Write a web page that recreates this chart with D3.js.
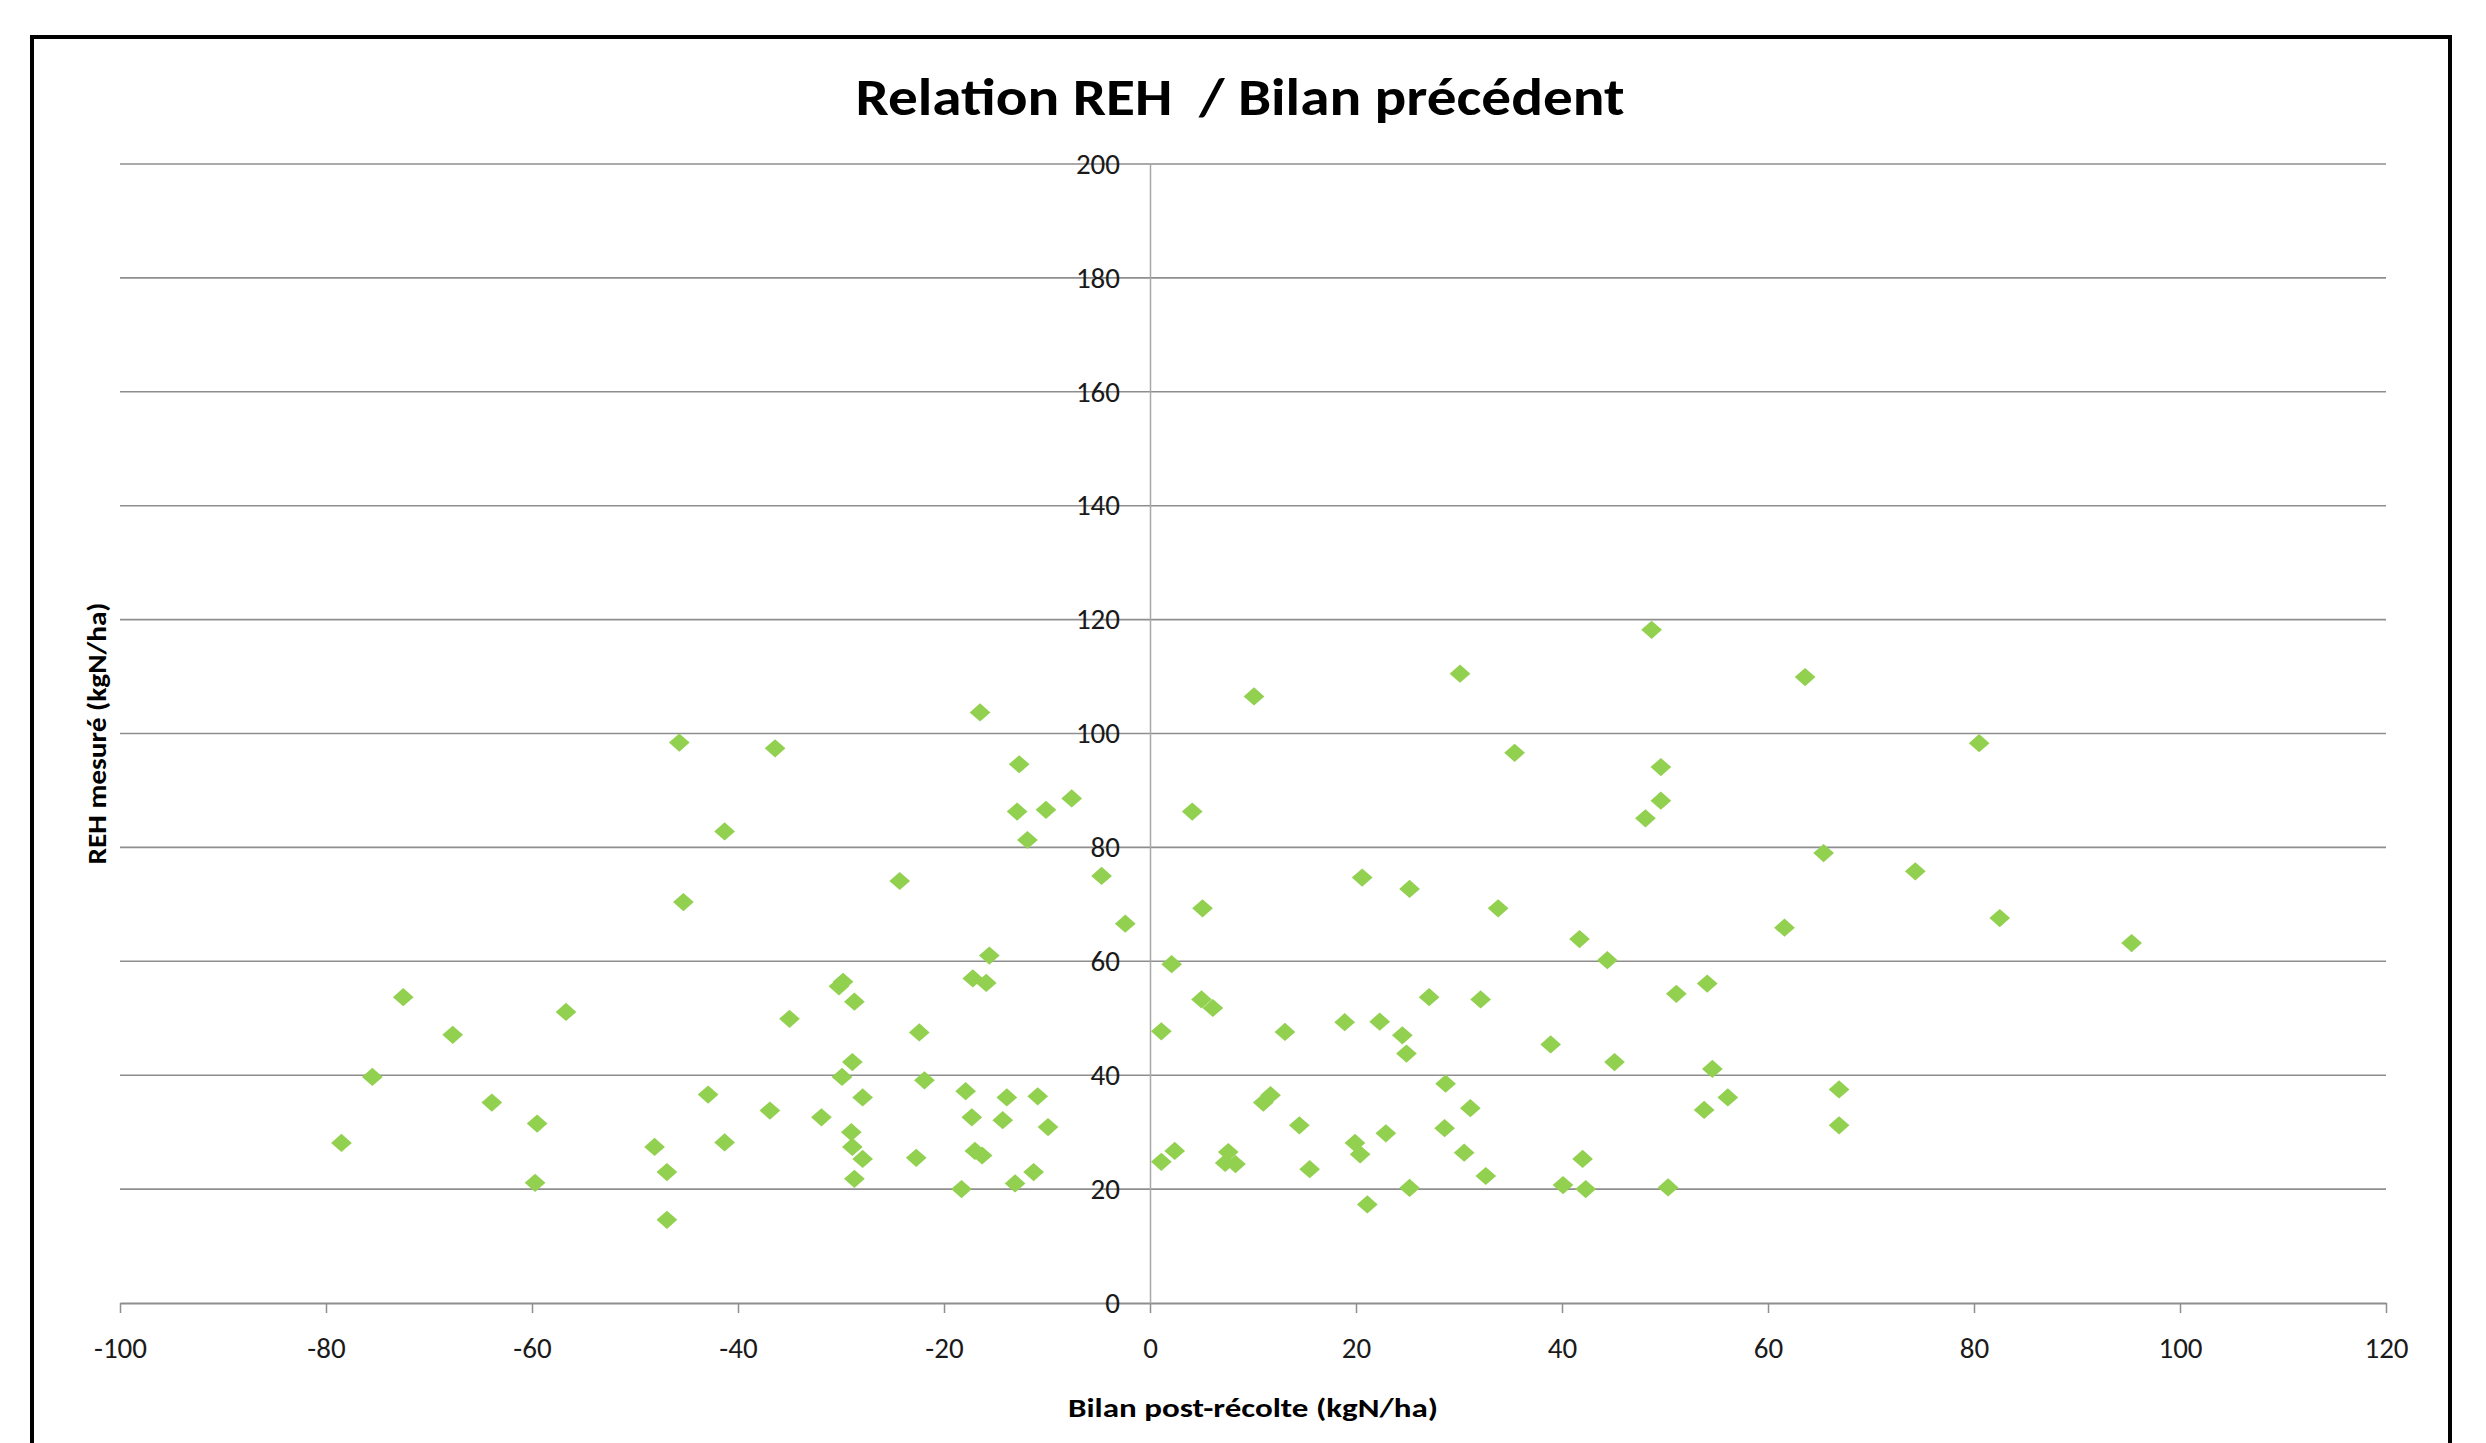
<!DOCTYPE html>
<html>
<head>
<meta charset="utf-8">
<script src="https://cdn.jsdelivr.net/npm/d3@7"></script>
<style>
    body { margin: 0; background: #ffffff; }
    text { font-family: Carlito, Calibri, Lato, sans-serif; }
</style>
</head>
<body>
<div id="reh-viz"></div>
<script>
// --------------------------------------
// Data: bilan post-récolte (x) and REH mesuré (y)
const bilan = [
    -78.5, -75.5, -72.5, -67.7, -63.9, -59.5, -59.7, -56.7,
    -48.1, -46.9, -46.9, -45.7, -45.3, -42.9, -41.3, -41.3, -36.9, -36.4, -35.0, -31.9,
    -30.2, -29.8, -29.9, -28.9, -28.7, -29.0, -28.9, -27.9, -28.7, -27.9, -24.3, -22.4, -21.9, -22.7,
    -18.3, -17.9, -17.3, -17.2, -17.0, -16.3, -16.5, -15.9, -15.6, -14.3, -13.9, -13.1, -12.7, -12.9,
    -11.9, -11.3, -10.9, -10.1, -9.9, -7.6, -4.7, -2.4,
    1.1, 1.1, 2.1, 2.4, 4.1, 5.0, 5.1, 6.1, 7.3, 7.6, 8.3, 10.1, 11.0, 11.7,
    13.1, 14.5, 15.5, 18.9, 19.9, 20.4, 20.6, 21.1, 22.3, 22.9, 24.5, 24.9, 25.2, 25.2, 27.1,
    28.7, 28.6, 30.5, 31.1, 30.1, 32.1, 32.6, 33.8, 35.4, 38.9, 40.1, 41.7, 42.0, 42.3,
    44.4, 45.1, 48.1, 48.7, 49.6, 49.6, 50.3, 51.1, 53.8, 54.1, 54.6, 56.1, 61.6, 63.6, 65.4,
    66.9, 66.9, 74.3, 80.5, 82.5, 95.3
];
const reh = [
    28.1, 39.7, 53.7, 47.1, 35.2, 31.5, 21.1, 51.1,
    27.4, 23.0, 14.6, 98.4, 70.4, 36.6, 82.8, 28.2, 33.8, 97.4, 49.9, 32.6,
    55.6, 56.4, 39.7, 42.3, 52.9, 30.0, 27.4, 25.3, 21.8, 36.1, 74.1, 47.5, 39.1, 25.5,
    20.0, 37.2, 32.6, 57.0, 26.7, 25.9, 103.7, 56.2, 61.0, 32.1, 36.1, 21.0, 94.6, 86.3,
    81.3, 23.0, 36.3, 86.6, 30.9, 88.6, 75.0, 66.6,
    47.7, 24.8, 59.5, 26.7, 86.3, 53.3, 69.3, 51.8, 24.6, 26.5, 24.4, 106.5, 35.2, 36.5,
    47.6, 31.2, 23.5, 49.3, 28.1, 26.1, 74.7, 17.3, 49.4, 29.8, 47.0, 43.8, 72.7, 20.2, 53.7,
    38.5, 30.7, 26.4, 34.2, 110.5, 53.3, 22.3, 69.3, 96.6, 45.4, 20.7, 63.9, 25.3, 20.0,
    60.2, 42.3, 85.1, 118.2, 94.1, 88.2, 20.3, 54.3, 33.9, 56.1, 41.1, 36.1, 65.9, 109.9, 79.0,
    37.5, 31.2, 75.8, 98.3, 67.6, 63.2
];
const xTicks = [-100, -80, -60, -40, -20, 0, 20, 40, 60, 80, 100, 120];
const yTicks = [0, 20, 40, 60, 80, 100, 120, 140, 160, 180, 200];

const chartTitle = "Relation REH  / Bilan précédent";
const xTitle = "Bilan post-récolte (kgN/ha)";
const yTitle = "REH mesuré (kgN/ha)";

class chartReh {
    constructor(selector) {
        this.width = 2486;
        this.height = 1443;
        this.svg = d3.select(selector)
            .append("svg")
            .attr("width", this.width)
            .attr("height", this.height);

        // plot area in pixels
        const left = 120, right = 2386, top = 164, bottom = 1303;

        const x = d3.scaleLinear().domain([-100, 120]).range([left, right]);
        const y = d3.scaleLinear().domain([0, 200]).range([bottom, top]);

        // outer frame (bottom edge is cut off in the original)
        this.svg.append("rect")
            .attr("x", 32).attr("y", 37)
            .attr("width", 2418).attr("height", 1450)
            .attr("fill", "none")
            .attr("stroke", "#000")
            .attr("stroke-width", 4);

        // horizontal gridlines
        this.svg.append("g")
            .selectAll("line")
            .data(yTicks.filter(d => d > 0))
            .join("line")
            .attr("x1", left).attr("x2", right)
            .attr("y1", d => y(d)).attr("y2", d => y(d))
            .attr("stroke", "#8e8e8e")
            .attr("stroke-width", 1.6);

        // plain hyphen for negatives, like Excel
        const fmt = d => String(d);

        // x axis, drawn at y = 0
        const xAxis = this.svg.append("g")
            .attr("transform", `translate(0,${y(0)})`)
            .call(d3.axisBottom(x).tickValues(xTicks).tickFormat(fmt)
                .tickSize(10).tickPadding(24).tickSizeOuter(0));
        xAxis.select(".domain").attr("stroke", "#8e8e8e").attr("stroke-width", 1.8);
        xAxis.selectAll(".tick line").attr("stroke", "#8e8e8e").attr("stroke-width", 1.5);
        xAxis.selectAll(".tick text")
            .attr("font-family", "Carlito, Calibri, Lato, sans-serif")
            .attr("font-size", 29)
            .attr("fill", "#1a1a1a");

        // y axis, crossing at x = 0, labels on the left of it
        const yAxis = this.svg.append("g")
            .attr("transform", `translate(${x(0)},0)`)
            .call(d3.axisLeft(y).tickValues(yTicks).tickFormat(fmt)
                .tickSize(0).tickPadding(30).tickSizeOuter(0));
        yAxis.select(".domain").attr("stroke", "#a8a8a8").attr("stroke-width", 1.5);
        yAxis.selectAll(".tick text")
            .attr("font-family", "Carlito, Calibri, Lato, sans-serif")
            .attr("font-size", 29)
            .attr("fill", "#1a1a1a");

        // points
        const points = bilan.map((b, i) => ({ x: b, y: reh[i] }));
        this.svg.append("g")
            .selectAll("path")
            .data(points)
            .join("path")
            .attr("d", d3.symbol(d3.symbolDiamond2, 235))
            .attr("transform", d => `translate(${x(d.x)},${y(d.y)}) scale(1.08,0.95)`)
            .attr("fill", "#92d050");

        // titles
        this.svg.append("text")
            .attr("x", 1240).attr("y", 115)
            .attr("text-anchor", "middle")
            .attr("font-size", 53)
            .attr("font-weight", "bold")
            .attr("xml:space", "preserve")
            .style("white-space", "pre")
            .attr("textLength", 769)
            .attr("lengthAdjust", "spacingAndGlyphs")
            .text(chartTitle);

        this.svg.append("text")
            .attr("x", 1253).attr("y", 1417)
            .attr("text-anchor", "middle")
            .attr("font-size", 26)
            .attr("font-weight", "bold")
            .attr("textLength", 370)
            .attr("lengthAdjust", "spacingAndGlyphs")
            .text(xTitle);

        this.svg.append("text")
            .attr("transform", `translate(106,${(top + bottom) / 2}) rotate(-90)`)
            .attr("text-anchor", "middle")
            .attr("font-size", 26)
            .attr("font-weight", "bold")
            .attr("textLength", 262)
            .attr("lengthAdjust", "spacingAndGlyphs")
            .text(yTitle);
    }
}

function whenDocumentLoaded(action) {
    if (document.readyState === "loading") {
        document.addEventListener("DOMContentLoaded", action);
    } else {
        action();
    }
}
whenDocumentLoaded(() => {
    plot_object = new chartReh("#reh-viz");
});
</script>
</body>
</html>
